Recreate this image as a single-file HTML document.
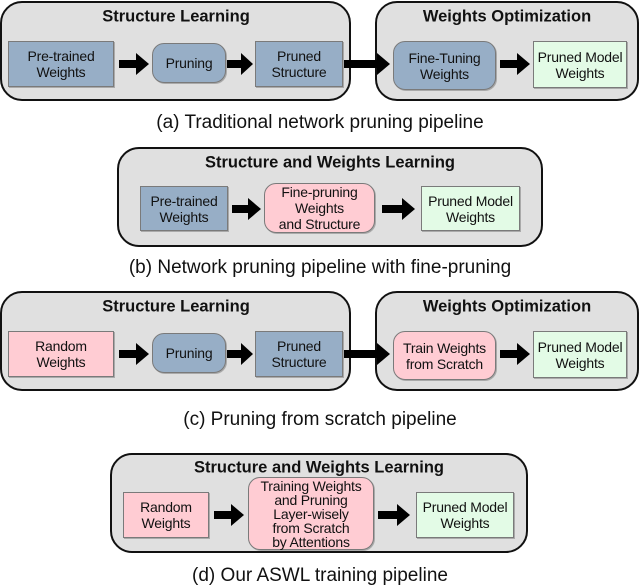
<!DOCTYPE html>
<html><head><style>
body{margin:0;width:640px;height:587px;background:#fff;position:relative;font-family:"Liberation Sans",Arial,sans-serif;overflow:hidden}
.p{position:absolute;background:#e0e0e0;border:2px solid #111;border-radius:22px;box-sizing:border-box}
.t{position:absolute;font-weight:bold;font-size:16.5px;text-align:center;transform:translate(-50%,-50%);white-space:nowrap;color:#111}
.b{position:absolute;box-sizing:border-box;border:1px solid #7a7a7a;display:flex;align-items:center;justify-content:center;text-align:center;font-size:14px;line-height:16px;color:#111;box-shadow:1px 1px 0 #aaa;letter-spacing:-0.2px}
.bl{background:#97aec6}.pk{background:#ffccd3}.gr{background:#e3fbe6}
.r{border-radius:12px}
.c{position:absolute;left:320px;font-size:19px;transform:translate(-50%,-50%);white-space:nowrap;color:#111}
svg{position:absolute;left:0;top:0}
</style></head><body>
<!-- (a) -->
<div class="p" style="left:0;top:1px;width:351px;height:100px"></div>
<div class="p" style="left:375px;top:1px;width:264px;height:100px"></div>
<div class="t" style="left:176px;top:17px">Structure Learning</div>
<div class="t" style="left:507px;top:17px">Weights Optimization</div>
<div class="b bl" style="left:8px;top:41px;width:106px;height:46px">Pre-trained<br>Weights</div>
<div class="b bl r" style="left:152px;top:43px;width:74px;height:40px">Pruning</div>
<div class="b bl" style="left:255px;top:41px;width:88px;height:46px">Pruned<br>Structure</div>
<div class="b bl r" style="left:393px;top:41px;width:103px;height:49px">Fine-Tuning<br>Weights</div>
<div class="b gr" style="left:533px;top:41px;width:94px;height:47px">Pruned Model<br>Weights</div>
<div class="c" style="top:123px">(a) Traditional network pruning pipeline</div>
<!-- (b) -->
<div class="p" style="left:117px;top:147px;width:426px;height:100px"></div>
<div class="t" style="left:330px;top:163px">Structure and Weights Learning</div>
<div class="b bl" style="left:140px;top:186px;width:88px;height:45px">Pre-trained<br>Weights</div>
<div class="b pk r" style="left:264px;top:183px;width:111px;height:50px">Fine-pruning<br>Weights<br>and Structure</div>
<div class="b gr" style="left:421px;top:186px;width:99px;height:45px">Pruned Model<br>Weights</div>
<div class="c" style="top:268px">(b) Network pruning pipeline with fine-pruning</div>
<!-- (c) -->
<div class="p" style="left:0;top:291px;width:351px;height:100px"></div>
<div class="p" style="left:375px;top:291px;width:264px;height:100px"></div>
<div class="t" style="left:176px;top:307px">Structure Learning</div>
<div class="t" style="left:507px;top:307px">Weights Optimization</div>
<div class="b pk" style="left:8px;top:331px;width:106px;height:46px">Random<br>Weights</div>
<div class="b bl r" style="left:152px;top:333px;width:74px;height:40px">Pruning</div>
<div class="b bl" style="left:255px;top:331px;width:88px;height:46px">Pruned<br>Structure</div>
<div class="b pk r" style="left:393px;top:331px;width:103px;height:49px">Train Weights<br>from Scratch</div>
<div class="b gr" style="left:533px;top:331px;width:94px;height:47px">Pruned Model<br>Weights</div>
<div class="c" style="top:420px">(c) Pruning from scratch pipeline</div>
<!-- (d) -->
<div class="p" style="left:110px;top:453px;width:418px;height:100px"></div>
<div class="t" style="left:319px;top:468px">Structure and Weights Learning</div>
<div class="b pk" style="left:123px;top:492px;width:86px;height:46px">Random<br>Weights</div>
<div class="b pk r" style="left:248px;top:477px;width:126px;height:73px;line-height:14px">Training Weights<br>and Pruning<br>Layer-wisely<br>from Scratch<br>by Attentions</div>
<div class="b gr" style="left:416px;top:492px;width:98px;height:46px">Pruned Model<br>Weights</div>
<div class="c" style="top:576px">(d) Our ASWL training pipeline</div>
<svg width="640" height="587">
<g fill="#000">
<polygon points="119,60 136,60 136,53 149,64 136,75 136,68 119,68"/>
<polygon points="227,60 241,60 241,53 253,64 241,75 241,68 227,68"/>
<polygon points="344,60 377,60 377,53 390,64 377,75 377,68 344,68"/>
<polygon points="500,60 517,60 517,53 530,64 517,75 517,68 500,68"/>
<polygon points="232,205 248,205 248,198 261,209 248,220 248,213 232,213"/>
<polygon points="382,205 402,205 402,198 415,209 402,220 402,213 382,213"/>
<polygon points="119,350 136,350 136,343 149,354 136,365 136,358 119,358"/>
<polygon points="227,350 241,350 241,343 253,354 241,365 241,358 227,358"/>
<polygon points="344,350 377,350 377,343 390,354 377,365 377,358 344,358"/>
<polygon points="500,350 517,350 517,343 530,354 517,365 517,358 500,358"/>
<polygon points="214,511 231,511 231,504 244,515 231,526 231,519 214,519"/>
<polygon points="378,511 397,511 397,504 410,515 397,526 397,519 378,519"/>
</g>
</svg>
</body></html>
